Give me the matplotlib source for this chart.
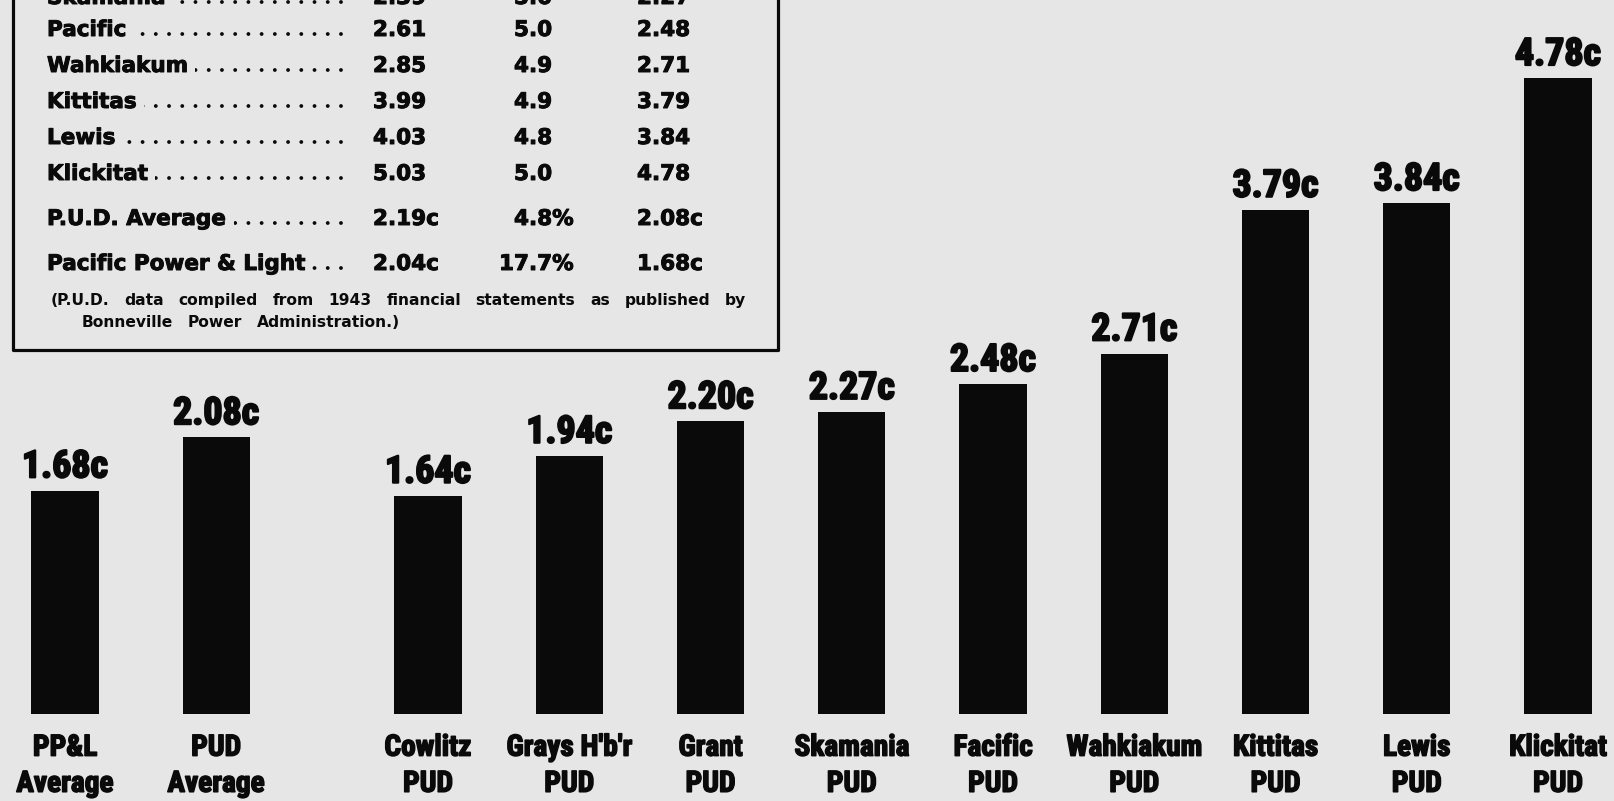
import matplotlib
matplotlib.use('Agg')
import matplotlib.pyplot as plt
from matplotlib import font_manager
from matplotlib.font_manager import FontProperties
from matplotlib.transforms import Affine2D
from matplotlib.lines import Line2D
from matplotlib.patches import Rectangle
import matplotlib.patheffects as pe

# ---------------- data ----------------
avg_labels = ['PP&L\nAverage', 'PUD\nAverage']
avg_values = [1.68, 2.08]

pud_labels = ['Cowlitz\nPUD', "Grays H'b'r\nPUD", 'Grant\nPUD', 'Skamania\nPUD',
              'Facific\nPUD', 'Wahkiakum\nPUD', 'Kittitas\nPUD', 'Lewis\nPUD',
              'Klickitat\nPUD']
pud_values = [1.64, 1.94, 2.20, 2.27, 2.48, 2.71, 3.79, 3.84, 4.78]

table_names = ['Skamania', 'Pacific', 'Wahkiakum', 'Kittitas', 'Lewis', 'Klickitat',
               'P.U.D. Average', 'Pacific Power & Light']
table_gross = ['2.39', '2.61', '2.85', '3.99', '4.03', '5.03', '2.19c', '2.04c']
table_tax = ['5.0', '5.0', '4.9', '4.9', '4.8', '5.0', '4.8%', '17.7%']
table_net = ['2.27', '2.48', '2.71', '3.79', '3.84', '4.78', '2.08c', '1.68c']
footnote = ['(P.U.D. data compiled from 1943 financial statements as published by',
            'Bonneville Power Administration.)']

# ---------------- style ----------------
W, H = 1615, 801
BG = '#e6e6e6'
INK = '#0a0a0a'


def find_condensed():
    prefs = ['LiberationSansNarrow-Bold', 'RobotoCondensed-Bold', 'Roboto_Condensed-Bold',
             'OpenSans_Condensed-Bold', 'OpenSansCondensed-Bold', 'NotoSans-CondensedBold',
             'DejaVuSansCondensed-Bold']
    files = [f.fname for f in font_manager.fontManager.ttflist]
    for p in prefs:
        for fn in files:
            if p.lower() in fn.lower().replace(' ', ''):
                return FontProperties(fname=fn)
    return FontProperties(family='Roboto', weight='bold')


fp_cond = find_condensed()

fig = plt.figure(figsize=(W / 100, H / 100), dpi=100, facecolor=BG)
renderer = fig.canvas.get_renderer()


def text_width(text, **kw):
    t = fig.text(0, 0, text, **kw)
    w = t.get_window_extent(renderer).width
    t.remove()
    return w


def fit_size(text, target_px, max_size):
    w = text_width(text, fontproperties=fp_cond, fontsize=max_size)
    return max_size * min(1.0, target_px / w)


val_size = fit_size('4.78c', 86, 30)
cat_size = fit_size('Klickitat', 98, 25)

heavy_val = [pe.withStroke(linewidth=1.5, foreground=INK)]
heavy_cat = [pe.withStroke(linewidth=1.1, foreground=INK)]
heavy_tab = [pe.withStroke(linewidth=0.7, foreground=INK)]

ax = fig.add_axes([0, 0, 1, 1])
ax.set_facecolor('none')
ax.axis('off')

unit = 141.25        # px per slot
x0px = 428           # px of first PUD bar
ax.set_xlim(-x0px / unit, (W - x0px) / unit)
base_px = 714        # px of bar baseline from top
yscale = 133         # px per cent
ax.set_ylim(-(H - base_px) / yscale, base_px / yscale)

left_pos = [-2.57, -1.50]
right_pos = list(range(len(pud_values)))
positions = left_pos + right_pos
values = avg_values + pud_values
labels = avg_labels + pud_labels

ax.bar(positions, values, width=0.475, color=INK, zorder=2)

for p, v, lab in zip(positions, values, labels):
    ax.annotate(f'{v:.2f}c', (p, v), xytext=(0, 9.5), textcoords='offset points',
                ha='center', va='baseline', fontproperties=fp_cond,
                fontsize=val_size, color=INK, zorder=3, path_effects=heavy_val)
    l1, l2 = lab.split('\n')
    ax.annotate(l1, (p, 0), xytext=(0, -30), textcoords='offset points',
                ha='center', va='baseline', fontproperties=fp_cond,
                fontsize=cat_size, color=INK, path_effects=heavy_cat)
    ax.annotate(l2, (p, 0), xytext=(0, -56), textcoords='offset points',
                ha='center', va='baseline', fontproperties=fp_cond,
                fontsize=cat_size, color=INK, path_effects=heavy_cat)

# ---------------- table box (pixel coordinates from top-left) ----------------
px = Affine2D().scale(1 / W, -1 / H).translate(0, 1) + fig.transFigure

box = Rectangle((13, -40), 765, 390, transform=px, facecolor=BG,
                edgecolor=INK, linewidth=2.3, joinstyle='round', zorder=1)
fig.add_artist(box)

row_y = [-4, 28, 64, 100, 136, 172, 217, 262]
tab_size = 15.5
tab_kw = dict(transform=px, fontfamily='DejaVu Sans', fontweight='bold',
              fontsize=tab_size, color=INK, va='baseline', ha='left', zorder=5,
              path_effects=heavy_tab)
for y, name, g, t, n in zip(row_y, table_names, table_gross, table_tax, table_net):
    base = y + 8
    dots = Line2D([50, 352], [base - 2, base - 2], transform=px, color=INK,
                  linewidth=2.8, linestyle=(0, (0.001, 3.4)),
                  dash_capstyle='round', zorder=4)
    fig.add_artist(dots)
    fig.text(47, base, name,
             bbox=dict(facecolor=BG, edgecolor='none', boxstyle='square,pad=0.35'),
             **tab_kw)
    fig.text(373, base, g, **tab_kw)
    shift = (len(t.split('.')[0]) - 1) * 15
    fig.text(514 - shift, base, t, **tab_kw)
    fig.text(637, base, n, **tab_kw)

# footnote: first line justified between x=51 and x=746
foot_kw = dict(transform=px, fontfamily='DejaVu Sans', fontweight='bold',
               fontsize=11.2, color=INK, va='baseline', ha='left', zorder=5)
words = footnote[0].split(' ')
widths = [text_width(wd, fontfamily='DejaVu Sans', fontweight='bold', fontsize=11.2)
          for wd in words]
x_left, x_right = 51, 746
gap = (x_right - x_left - sum(widths)) / (len(words) - 1)
xc = x_left
for wd, wdw in zip(words, widths):
    fig.text(xc, 305, wd, **foot_kw)
    xc += wdw + gap
words2 = footnote[1].split(' ')
widths2 = [text_width(wd, fontfamily='DejaVu Sans', fontweight='bold', fontsize=11.2)
           for wd in words2]
xc = 82
for wd, wdw in zip(words2, widths2):
    fig.text(xc, 327, wd, **foot_kw)
    xc += wdw + gap

fig.savefig('out.png', dpi=100, facecolor=BG)
